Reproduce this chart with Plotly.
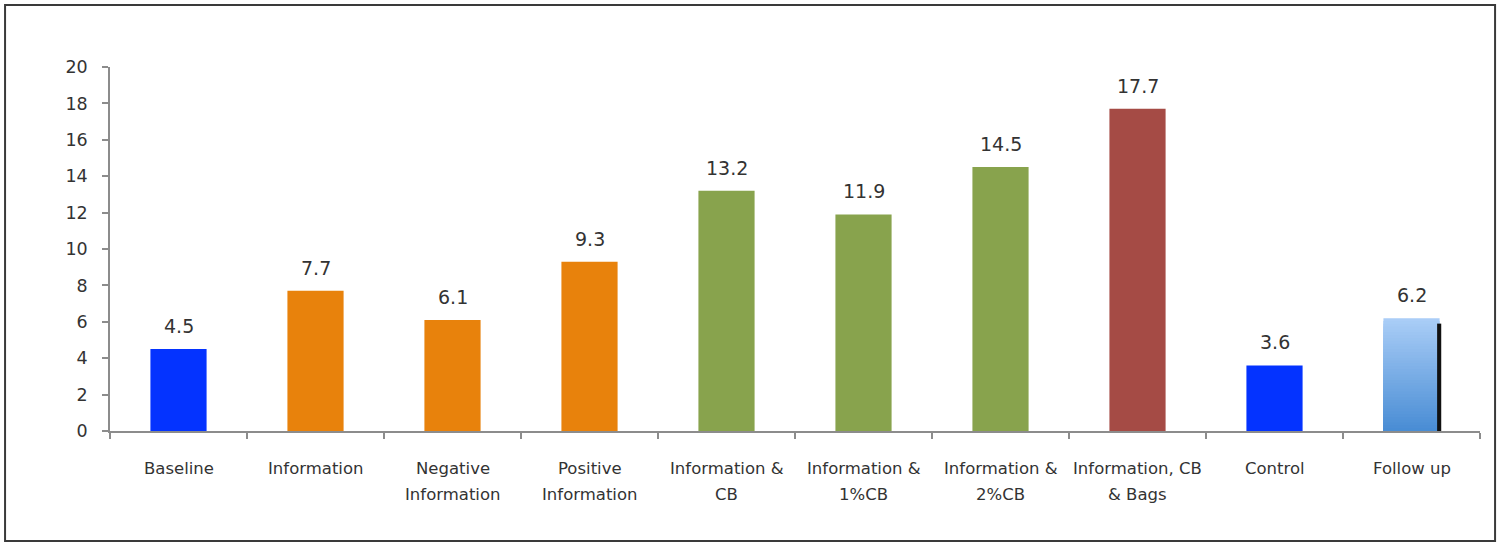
import plotly.graph_objects as go

# Category labels, values and bar colours
categories = ["Baseline", "Information", "Negative<br>Information", "Positive<br>Information",
              "Information &<br>CB", "Information &<br>1%CB", "Information &<br>2%CB",
              "Information, CB<br>& Bags", "Control", "Follow up"]
values = [4.5, 7.7, 6.1, 9.3, 13.2, 11.9, 14.5, 17.7, 3.6, 6.2]
bar_colors = ["#0433FF", "#E8820C", "#E8820C", "#E8820C", "#88A34D", "#88A34D",
              "#88A34D", "#A54B45", "#0433FF", None]
y_ticks = [0, 2, 4, 6, 8, 10, 12, 14, 16, 18, 20]

FONT = "DejaVu Sans, sans-serif"
TEXT = "#333333"
BAR_W = 0.41
fig = go.Figure()

# Solid bars (all but the gradient bar)
solid_idx = [i for i, c in enumerate(bar_colors) if c is not None]
fig.add_trace(go.Bar(
    x=[categories[i] for i in solid_idx],
    y=[values[i] for i in solid_idx],
    marker=dict(color=[bar_colors[i] for i in solid_idx], line=dict(width=0)),
    width=BAR_W, hoverinfo="skip",
))

# Gradient bar: nested bars from the full height down, each one a shade deeper
grad_idx = bar_colors.index(None)
n_steps = 40
top_rgb = (171, 206, 247)
bot_rgb = (72, 140, 212)
v = values[grad_idx]
for k in range(n_steps):
    frac = (n_steps - k) / n_steps          # height fraction of this layer
    t = (n_steps - k - 0.5) / n_steps        # colour position (1 = top)
    rgb = tuple(round(b + (tp - b) * t) for b, tp in zip(bot_rgb, top_rgb))
    fig.add_trace(go.Bar(
        x=[categories[grad_idx]], y=[v * frac],
        marker=dict(color="rgb(%d,%d,%d)" % rgb, line=dict(width=0)),
        width=BAR_W, offset=-BAR_W / 2, hoverinfo="skip",
    ))
# Dark edge along the right side of the gradient bar
fig.add_trace(go.Bar(
    x=[categories[grad_idx]], y=[v - 0.3],
    marker=dict(color="#111111", line=dict(width=0)),
    width=0.03, offset=BAR_W / 2 - 0.018, hoverinfo="skip",
))

# Value labels above bars
for c, val in zip(categories, values):
    fig.add_annotation(x=c, y=val, text=f"{val:.1f}", showarrow=False,
                       yanchor="bottom", yshift=10,
                       font=dict(family=FONT, size=19, color=TEXT))

# Category labels under the axis, one annotation per line
for c in categories:
    for j, line in enumerate(c.split("<br>")):
        fig.add_annotation(x=c, y=0, yref="paper", text=line, showarrow=False,
                           yanchor="middle", yshift=-37 - 26 * j,
                           font=dict(family=FONT, size=16.5, color=TEXT))

# Outer frame
fig.add_shape(type="rect", xref="paper", yref="paper",
              x0=-0.0766, x1=1.011, y0=-0.302, y1=1.170,
              line=dict(color="#3a3a3a", width=2), fillcolor="rgba(0,0,0,0)", layer="below")

fig.update_layout(
    width=1502, height=544,
    margin=dict(l=110, r=22, t=67, b=113),
    plot_bgcolor="white", paper_bgcolor="white",
    showlegend=False, barmode="overlay",
    font=dict(family=FONT, color=TEXT),
)
fig.update_yaxes(
    range=[0, 20], tickvals=y_ticks, showgrid=False, zeroline=False,
    showline=True, linecolor="#8c8c8c", linewidth=1.5,
    ticks="outside", ticklen=6, tickcolor="#8c8c8c", tickwidth=1.5,
    tickfont=dict(family=FONT, size=17.5, color=TEXT), ticklabelstandoff=11,
)
fig.update_xaxes(
    categoryorder="array", categoryarray=categories,
    showgrid=False, showline=True, linecolor="#8c8c8c", linewidth=1.5,
    ticks="outside", ticklen=6, tickcolor="#8c8c8c", tickwidth=1.5,
    tickson="boundaries", showticklabels=False,
)

fig.write_html("out.html")
